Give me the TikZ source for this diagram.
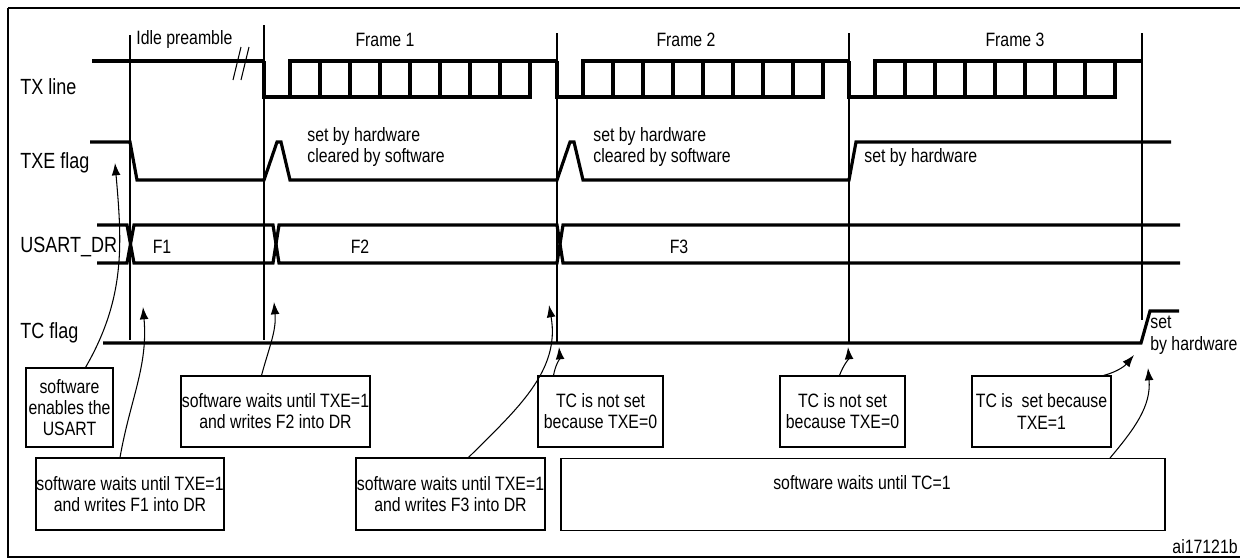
\documentclass[tikz,border=0pt]{standalone}
\usepackage{fontspec}
\setmainfont{Liberation Sans}[FakeStretch=0.82]
\usepackage{tikz}
\usetikzlibrary{arrows.meta}
\tikzstyle{signal} = [line width=1.8pt, line join=miter]
\tikzstyle{marker} = [line width=0.6pt]
\tikzstyle{note} = [draw, line width=0.6pt, align=center, font=\fontsize{11}{12}\selectfont, inner sep=0]
\tikzstyle{lbl} = [font=\fontsize{11}{12.5}\selectfont, inner sep=0]
\tikzstyle{rowlbl} = [font=\fontsize{12.5}{14}\selectfont, inner sep=0, anchor=west]
\tikzstyle{pointer} = [-{Latex[length=7pt,width=5pt]}, line width=0.6pt]
% one TX frame starting at x=#1
\newcommand{\txframe}[1]{
	\draw[signal] (#1,61) -- (#1,97) -- (#1+266,97) -- (#1+266,61);
	\draw[signal] (#1+26,97) -- (#1+26,61) -- (#1+293,61);
	\foreach \k in {1,...,7} {
		\draw[signal] (#1+26+30*\k,61) -- (#1+26+30*\k,97);
	}
}
\begin{document}
\begin{tikzpicture}[x=0.02cm,y=-0.02cm]
	
	\useasboundingbox (0,0) rectangle (1240,558);
	\draw[line width=1pt] (8,8) -- (8,557) -- (1240,557);
	\draw[line width=1pt] (8,8) -- (1240,8);
	\node[lbl, anchor=south east] (ref) at (1238,554) {ai17121b};
	
	% row labels
	\node[rowlbl] (txl) at (20,87) {TX line};
	\node[rowlbl] (txel) at (20,163) {TXE flag};
	\node[rowlbl] (drl) at (20,247) {USART\_DR};
	\node[rowlbl] (tcl) at (20,333) {TC flag};
	
	% frame labels
	\node[lbl, anchor=west] (idle) at (136,40) {Idle preamble};
	\node[lbl] (fr1) at (385,40) {Frame 1};
	\node[lbl] (fr2) at (686,40) {Frame 2};
	\node[lbl] (fr3) at (1015,40) {Frame 3};
	
	% markers
	\draw[marker] (130,35) -- (130,340);
	\draw[marker] (264,25) -- (264,340);
	\draw[marker] (557,33) -- (557,343);
	\draw[marker] (849,33) -- (849,343);
	\draw[marker] (1142,33) -- (1142,320);
	
	% TX line
	\draw[signal] (92,61) -- (264,61);
	\txframe{264}
	\txframe{557}
	\txframe{849}
	\draw[marker] (233,80) -- (241,47);
	\draw[marker] (241,80) -- (249,47);
	
	% TXE flag
	\draw[signal] (90,142) -- (130,142) -- (137,180) -- (264,180) -- (277,142) -- (281,142)
		-- (290,180) -- (557,180) -- (570,142) -- (574,142) -- (583,180) -- (849,180)
		-- (856,142) -- (1171,142);
	\node[lbl, anchor=west, align=left] (txe1) at (307,147) {set by hardware\\cleared by software};
	\node[lbl, anchor=west, align=left] (txe2) at (593,147) {set by hardware\\cleared by software};
	\node[lbl, anchor=west] (txe3) at (864,157) {set by hardware};
	
	% USART_DR
	\draw[signal] (97,225) -- (127,225) -- (134,263) -- (273,263) -- (279,225) -- (557,225)
		-- (563,263) -- (1180,263);
	\draw[signal] (97,263) -- (127,263) -- (134,225) -- (273,225) -- (279,263) -- (557,263)
		-- (563,225) -- (1180,225);
	\node[lbl] (f1) at (162,247) {F1};
	\node[lbl] (f2) at (360,247) {F2};
	\node[lbl] (f3) at (679,247) {F3};
	
	% TC flag
	\draw[signal] (103,343) -- (1141,343) -- (1150,311) -- (1179,311);
	\node[lbl, anchor=north west, align=left] (tcset) at (1150,316) {set\\by hardware};
	
	% notes
	\node[note, minimum width=87*0.02cm, minimum height=79*0.02cm] (en) at (69.5,407.5) {software\\enables the\\USART};
	\node[note, minimum width=188*0.02cm, minimum height=72*0.02cm] (w1) at (130,494) {software waits until TXE=1\\and writes F1 into DR};
	\node[note, minimum width=189*0.02cm, minimum height=71*0.02cm] (w2) at (275.5,411.5) {software waits until TXE=1\\and writes F2 into DR};
	\node[note, minimum width=189*0.02cm, minimum height=72*0.02cm] (w3) at (450.5,494) {software waits until TXE=1\\and writes F3 into DR};
	\node[note, minimum width=125*0.02cm, minimum height=71*0.02cm] (n1) at (600.5,411.5) {TC is not set\\because TXE=0};
	\node[note, minimum width=125*0.02cm, minimum height=71*0.02cm] (n2) at (842.5,411.5) {TC is not set\\because TXE=0};
	\node[note, minimum width=139*0.02cm, minimum height=71*0.02cm] (s3) at (1041.5,411.5) {TC is\ \ set because\\TXE=1};
	\node[note, minimum width=604*0.02cm, minimum height=72*0.02cm, anchor=north] (wtc) at (863,458) {};
	\node[lbl] (wtctext) at (862,483) {software waits until TC=1};
	
	% pointers
	\draw[pointer] ([xshift=16*0.02cm]en.north) to[out=60,in=-85] (115,163);
	\draw[pointer] ([xshift=-10*0.02cm]w1.north) to[out=80,in=-85] (143,307);
	\draw[pointer] ([xshift=-14*0.02cm]w2.north) to[out=75,in=-85] (274,302);
	\draw[pointer] ([xshift=18*0.02cm]w3.north) to[out=45,in=-80] (549,305);
	\draw[pointer] ([xshift=-47*0.02cm]n1.north) to[out=80,in=-85] (559,347);
	\draw[pointer] ([xshift=-3*0.02cm]n2.north) to[out=70,in=-85] (848,347);
	\draw[pointer] ([xshift=62*0.02cm]s3.north) to[out=15,in=-130] (1134,355);
	\draw[pointer] ([xshift=247*0.02cm]wtc.north) to[out=50,in=-85] (1148,368);
	
\end{tikzpicture}
\end{document}
